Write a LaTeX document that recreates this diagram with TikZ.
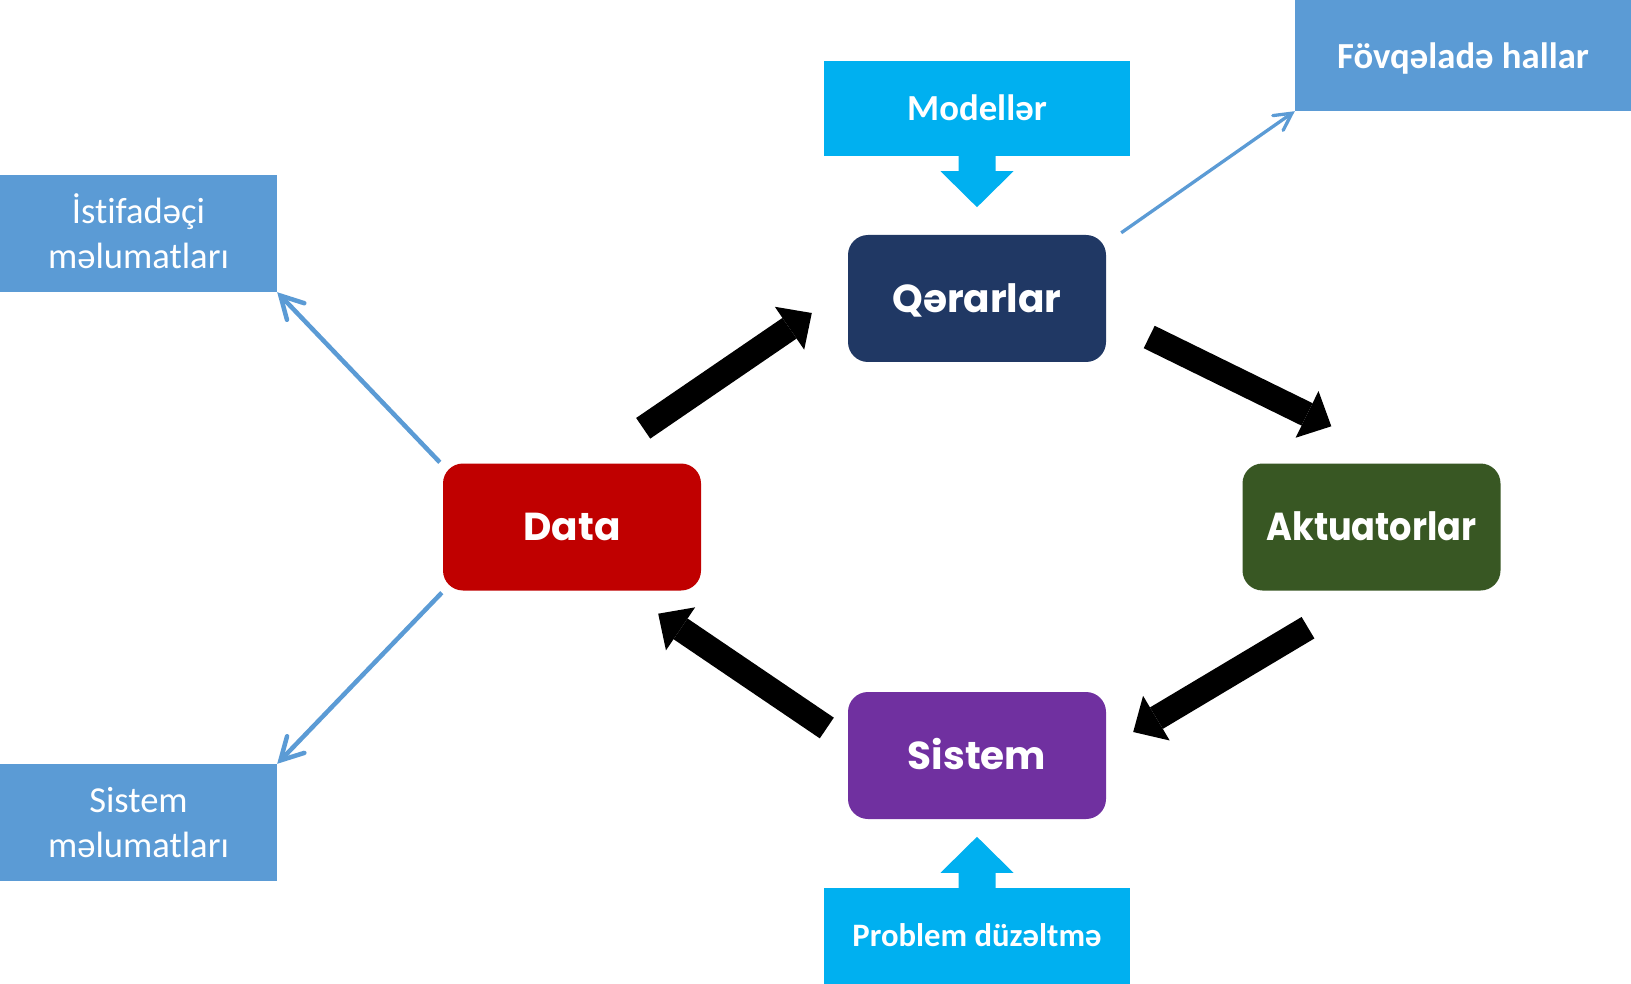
\documentclass[tikz,border=0pt]{standalone}
\usepackage{fontspec}
\setmainfont{Carlito}[Ligatures=NoCommon]
\newfontfamily\headfont{Poppins}
\usetikzlibrary{arrows.meta,calc}
\definecolor{navy}{HTML}{203864}
\definecolor{dred}{HTML}{C00000}
\definecolor{dgreen}{HTML}{385723}
\definecolor{purp}{HTML}{7030A0}
\definecolor{cyanb}{HTML}{00B0F0}
\definecolor{lblue}{HTML}{5B9BD5}
\begin{document}
\begin{tikzpicture}[x=1pt,y=-1pt,
  mainbox/.style={rounded corners=20pt, minimum width=258pt, minimum height=127pt, inner sep=0pt,
    text=white, text height=27.5pt, text depth=0pt, font=\headfont\bfseries\fontsize{39}{47}\selectfont},
  calloutbox/.style={fill=cyanb, minimum width=306pt, minimum height=95pt, inner sep=0pt,
    text=white, text depth=0pt},
  infobox/.style={fill=lblue, inner sep=0pt, text=white},
  infotwo/.style={infobox, minimum width=277pt, minimum height=117pt, align=center,
    font=\fontsize{36.6}{45}\selectfont},
  bigarrow/.style={line width=25pt, -{Triangle[length=27pt,width=52pt,line width=0pt]}},
  thinarrow/.style={draw=lblue, line width=4.5pt, -{Straight Barb[length=22pt,width=24pt,line cap=round]}},
  fovarrow/.style={draw=lblue, line width=3.3pt, -{Straight Barb[length=17pt,width=18pt,line cap=round]}}
]
\useasboundingbox[fill=white] (0,0) rectangle (1631,984);

% main nodes
\node[mainbox, fill=navy]   (qer)  at (977,298.5) {Qərarlar};
\node[mainbox, fill=dred]   (data) at (572,527)   {Data};
\node[mainbox, fill=dgreen] (akt)  at (1371.5,527) {\scalebox{0.9}[1]{Aktuatorlar}};
\node[mainbox, fill=purp]   (sis)  at (977,755.5) {Sistem};

% callout boxes
\node[calloutbox, text height=23.6pt, font=\bfseries\fontsize{36.7}{44}\selectfont] (mod) at (977,108.5) {Modellər};
\node[calloutbox, minimum height=96pt, text height=21pt, font=\bfseries\fontsize{32.7}{40}\selectfont] (prob) at (977,936) {Problem düzəltmə};
\fill[cyanb] ($(mod.south)+(-18.5,-1)$) -- ++(37,0) -- ++(0,16) -- ++(18,0) -- ++(-36.5,36)
  -- ++(-36.5,-36) -- ++(18,0) -- cycle;
\fill[cyanb] ($(prob.north)+(-18.5,1)$) -- ++(37,0) -- ++(0,-16) -- ++(18,0) -- ++(-36.5,-36)
  -- ++(-36.5,36) -- ++(18,0) -- cycle;

% info boxes
\node[infobox, minimum width=336pt, minimum height=111pt, text height=27pt, text depth=0pt,
  font=\bfseries\fontsize{36.7}{44}\selectfont] (fov) at (1463,55.5) {Fövqəladə hallar};
\node[infotwo] (ist) at (138.5,233.5) {\smash{İ}stifadəçi\\məlumatları};
\node[infotwo] (sm)  at (138.5,822.5) {Sistem\\məlumatları};

% black cycle arrows
\draw[bigarrow] ($(data.north east)+(-58,-35)$) -- ($(qer.west)+(-36,14.5)$);
\draw[bigarrow] ($(qer.east)+(43,38.5)$) -- ($(akt.north west)+(89,-37)$);
\draw[bigarrow] ($(akt.south)+(-63.5,37)$) -- ($(sis.east)+(27,-23.5)$);
\draw[bigarrow] ($(sis.west)+(-21,-27.5)$) -- ($(data.south east)+(-43,23)$);

% blue connectors
\draw[thinarrow] ($(data.north west)+(-3,-1)$) -- (ist.south east);
\draw[thinarrow] ($(data.south west)+(-1,2)$) -- (sm.north east);
\draw[fovarrow] ($(qer.north east)+(15,-2)$) -- (fov.south west);
\end{tikzpicture}
\end{document}
